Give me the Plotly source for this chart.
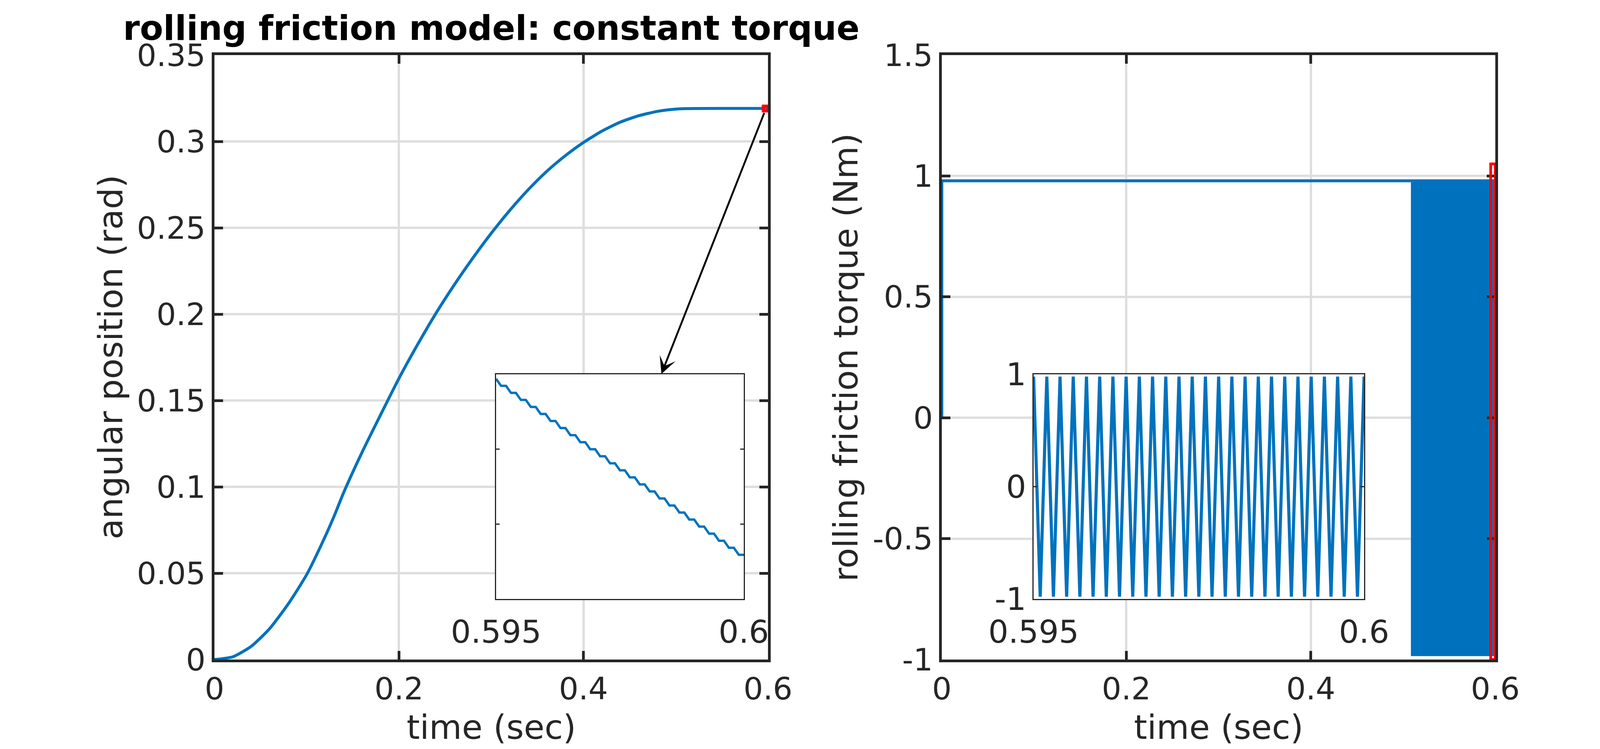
import plotly.graph_objects as go

# ---------------- data ----------------
time_pos = [0, 0.02, 0.04, 0.06, 0.08, 0.10, 0.12, 0.13, 0.14, 0.16, 0.18, 0.20,
            0.22, 0.24, 0.26, 0.28, 0.30, 0.32, 0.34, 0.36, 0.38, 0.40, 0.42,
            0.44, 0.46, 0.48, 0.50, 0.51, 0.55, 0.595, 0.60]
angle_pos = [0, 0.0016, 0.0077, 0.0180, 0.0322, 0.0492, 0.0712, 0.0834, 0.0966,
             0.1200, 0.1416, 0.1628, 0.1822, 0.2004, 0.2170, 0.2324, 0.2468,
             0.2600, 0.2720, 0.2826, 0.2916, 0.2994, 0.3060, 0.3112, 0.3149,
             0.3174, 0.3187, 0.3190, 0.31910, 0.31909, 0.31908]

# steady rolling-friction torque before the stick phase
torque_t = [0, 0, 0.5085]
torque_v = [0, 0.98, 0.98]
# envelope of the fast oscillation (stick phase) in the main torque plot
band_t = [0.5085, 0.6]
band_hi = [0.98, 0.98]
band_lo = [-0.98, -0.98]

# zoom window (red boxes)
zoom_t = [0.595, 0.6]
zoom_pos = [0.3179, 0.3202]
zoom_torque = [-1.0, 1.05]

# inset data, 0.595 .. 0.6 s
inset_t = [0.5950, 0.5951, 0.5952, 0.5953, 0.5954, 0.5955, 0.5956, 0.5957, 0.5958, 0.5959,
           0.5960, 0.5961, 0.5962, 0.5963, 0.5964, 0.5965, 0.5966, 0.5967, 0.5968, 0.5969,
           0.5970, 0.5971, 0.5972, 0.5973, 0.5974, 0.5975, 0.5976, 0.5977, 0.5978, 0.5979,
           0.5980, 0.5981, 0.5982, 0.5983, 0.5984, 0.5985, 0.5986, 0.5987, 0.5988, 0.5989,
           0.5990, 0.5991, 0.5992, 0.5993, 0.5994, 0.5995, 0.5996, 0.5997, 0.5998, 0.5999,
           0.6000]
inset_pos = [0.31909470,
             0.31909423, 0.31909423, 0.31909376, 0.31909376, 0.31909329, 0.31909329,
             0.31909282, 0.31909282, 0.31909235, 0.31909235, 0.31909188, 0.31909188,
             0.31909141, 0.31909141, 0.31909094, 0.31909094, 0.31909047, 0.31909047,
             0.31909000, 0.31909000, 0.31908953, 0.31908953, 0.31908906, 0.31908906,
             0.31908859, 0.31908859, 0.31908812, 0.31908812, 0.31908765, 0.31908765,
             0.31908718, 0.31908718, 0.31908671, 0.31908671, 0.31908624, 0.31908624,
             0.31908577, 0.31908577, 0.31908530, 0.31908530, 0.31908483, 0.31908483,
             0.31908436, 0.31908436, 0.31908389, 0.31908389, 0.31908342, 0.31908342,
             0.31908295, 0.31908295]
inset_torque = [0.98, -0.98, 0.98, -0.98, 0.98, -0.98, 0.98, -0.98, 0.98, -0.98,
                0.98, -0.98, 0.98, -0.98, 0.98, -0.98, 0.98, -0.98, 0.98, -0.98,
                0.98, -0.98, 0.98, -0.98, 0.98, -0.98, 0.98, -0.98, 0.98, -0.98,
                0.98, -0.98, 0.98, -0.98, 0.98, -0.98, 0.98, -0.98, 0.98, -0.98,
                0.98, -0.98, 0.98, -0.98, 0.98, -0.98, 0.98, -0.98, 0.98, -0.98,
                0.98]

# tick labels
t_ticks = [0, 0.2, 0.4, 0.6]
t_text = ['0', '0.2', '0.4', '0.6']
pos_ticks = [0, 0.05, 0.1, 0.15, 0.2, 0.25, 0.3, 0.35]
pos_text = ['0', '0.05', '0.1', '0.15', '0.2', '0.25', '0.3', '0.35']
tq_ticks = [-1, -0.5, 0, 0.5, 1, 1.5]
tq_text = ['-1', '-0.5', '0', '0.5', '1', '1.5']
in_t_ticks = [0.595, 0.6]
in_t_text = ['0.595', '0.6']
in_pos_ticks = [0.319085, 0.319090]
in_tq_ticks = [-1, 0, 1]
in_tq_text = ['-1', '0', '1']

# ---------------- styling ----------------
BLUE = '#0072BD'
DARK = '#262626'
GRID = '#dedede'
FONT = 'DejaVu Sans'
W, H = 4233, 1917

fig = go.Figure()

# left: angular position
fig.add_trace(go.Scatter(x=time_pos, y=angle_pos, mode='lines',
                         line=dict(color=BLUE, width=7.5, shape='spline', smoothing=0.6),
                         xaxis='x', yaxis='y', hoverinfo='skip'))
fig.add_trace(go.Scatter(x=[(zoom_t[0] + zoom_t[1]) / 2], y=[(zoom_pos[0] + zoom_pos[1]) / 2],
                         mode='markers', cliponaxis=False,
                         marker=dict(symbol='square-open', size=12, color='red',
                                     line=dict(color='red', width=8)),
                         xaxis='x', yaxis='y', hoverinfo='skip'))

# right: torque
fig.add_trace(go.Scatter(x=torque_t, y=torque_v, mode='lines',
                         line=dict(color=BLUE, width=7.5),
                         xaxis='x2', yaxis='y2', hoverinfo='skip'))
fig.add_trace(go.Scatter(x=band_t + band_t[::-1], y=band_hi + band_lo[::-1],
                         mode='lines', fill='toself', fillcolor=BLUE,
                         line=dict(color=BLUE, width=7.5),
                         xaxis='x2', yaxis='y2', hoverinfo='skip'))

# insets
fig.add_trace(go.Scatter(x=inset_t, y=inset_pos, mode='lines',
                         line=dict(color=BLUE, width=6),
                         xaxis='x3', yaxis='y3', hoverinfo='skip'))
fig.add_trace(go.Scatter(x=inset_t, y=inset_torque, mode='lines',
                         line=dict(color=BLUE, width=8),
                         xaxis='x4', yaxis='y4', hoverinfo='skip'))

fig.add_shape(type='rect', xref='x2', yref='y2',
              x0=zoom_t[0], x1=zoom_t[1], y0=zoom_torque[0], y1=zoom_torque[1],
              line=dict(color='red', width=7), fillcolor='rgba(0,0,0,0)')


def main_axis(domain, rng, vals, text, anchor, grid=True):
    return dict(domain=domain, range=rng, tickmode='array', tickvals=vals, ticktext=text,
                showline=True, linecolor=DARK, linewidth=7, mirror='ticks',
                ticks='inside', ticklen=22, tickwidth=7, tickcolor=DARK,
                showgrid=grid, gridcolor=GRID, gridwidth=6, zeroline=False,
                tickfont=dict(family=FONT, size=79, color=DARK), anchor=anchor,
                automargin=False, fixedrange=True)


def inset_axis(domain, rng, vals, text, anchor, labels=True, standoff=0):
    return dict(domain=domain, range=rng, tickmode='array', tickvals=vals, ticktext=text,
                showline=True, linecolor=DARK, linewidth=2.5, mirror='ticks',
                ticks='inside', ticklen=9, tickwidth=2.5, tickcolor=DARK,
                showgrid=False, zeroline=False, showticklabels=labels,
                ticklabelstandoff=standoff,
                tickfont=dict(family=FONT, size=81, color=DARK), anchor=anchor,
                automargin=False, fixedrange=True)


XL = [549 / W, 1966 / W]
XR = [2411 / W, 3828 / W]
YM = [(H - 1688) / H, (H - 141) / H]
XI1 = [1270 / W, 1904 / W]
XI2 = [2646 / W, 3492 / W]
YI = [(H - 1533) / H, (H - 958) / H]

fig.update_layout(
    template='none',
    width=W, height=H, autosize=False,
    margin=dict(l=0, r=0, t=0, b=0, pad=0, autoexpand=False),
    paper_bgcolor='white', plot_bgcolor='white', showlegend=False,
    xaxis=main_axis(XL, [0, 0.6], t_ticks, t_text, 'y'),
    yaxis=main_axis(YM, [0, 0.35], pos_ticks, pos_text, 'x'),
    xaxis2=main_axis(XR, [0, 0.6], t_ticks, t_text, 'y2'),
    yaxis2=main_axis(YM, [-1, 1.5], tq_ticks, tq_text, 'x2'),
    xaxis3=inset_axis(XI1, [0.595, 0.6], in_t_ticks, in_t_text, 'y3', standoff=12),
    yaxis3=inset_axis(YI, [0.319080, 0.319095], in_pos_ticks, ['', ''], 'x3', labels=False),
    xaxis4=inset_axis(XI2, [0.595, 0.6], in_t_ticks, in_t_text, 'y4', standoff=12),
    yaxis4=inset_axis(YI, [-1, 1], in_tq_ticks, in_tq_text, 'x4'),
)

cx_l = (XL[0] + XL[1]) / 2
cx_r = (XR[0] + XR[1]) / 2
cy = (YM[0] + YM[1]) / 2
label_font = dict(family=FONT, size=86, color=DARK)
fig.add_annotation(text='<b>rolling friction model: constant torque</b>', xref='paper', yref='paper',
                   x=cx_l, y=(H - 72) / H, xanchor='center', yanchor='middle', showarrow=False,
                   font=dict(family=FONT, size=87, color='black'))
fig.add_annotation(text='time (sec)', xref='paper', yref='paper', x=cx_l, y=(H - 1861) / H,
                   xanchor='center', yanchor='middle', showarrow=False, font=label_font)
fig.add_annotation(text='time (sec)', xref='paper', yref='paper', x=cx_r, y=(H - 1861) / H,
                   xanchor='center', yanchor='middle', showarrow=False, font=label_font)
fig.add_annotation(text='angular position (rad)', xref='paper', yref='paper', x=283 / W, y=cy,
                   xanchor='center', yanchor='middle', textangle=-90, showarrow=False, font=label_font)
fig.add_annotation(text='rolling friction torque (Nm)', xref='paper', yref='paper', x=2165 / W, y=cy,
                   xanchor='center', yanchor='middle', textangle=-90, showarrow=False, font=label_font)

# arrow from the zoom box to the inset
fig.add_annotation(x=0.4845, y=0.1654, xref='x', yref='y', ax=0.5962, ay=0.3168,
                   axref='x', ayref='y', text='', showarrow=True, arrowhead=3,
                   arrowsize=1.5, arrowwidth=4.8, arrowcolor='black')

fig.write_html('out.html', include_plotlyjs=True, config={'displayModeBar': False},
               post_script="document.body.style.margin='0';document.body.style.overflow='hidden';")
